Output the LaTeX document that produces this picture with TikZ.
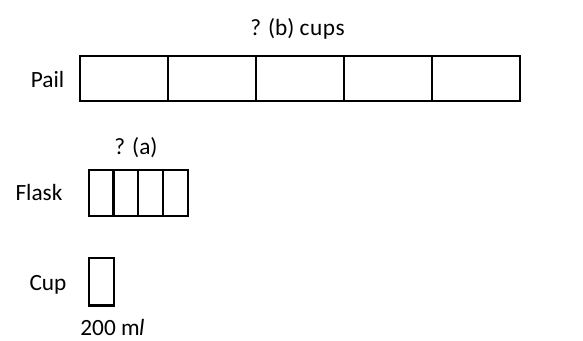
\documentclass[tikz,border=0pt]{standalone}
\usepackage{fontspec}
\setmainfont{Carlito}
\begin{document}
\begin{tikzpicture}[x=1pt,y=-1pt,
  lbl/.style={inner sep=0pt,anchor=base,font=\fontsize{23.3}{28}\selectfont},
  cell/.style={draw,line width=2.2pt,inner sep=0pt,anchor=north west}]
\useasboundingbox (0,0) rectangle (583,340);
% Pail
\foreach \i in {0,...,4} {
  \node[cell,minimum width=88pt,minimum height=45pt] (p\i) at ({78.5+88*\i},54.5) {};
}
% Flask
\foreach \i in {0,...,3} {
  \node[cell,minimum width=24.8pt,minimum height=46.5pt] (f\i) at ({87.5+24.8*\i},168.5) {};
}
% Cup
\node[cell,minimum width=25.2pt,minimum height=47.5pt] (c) at (87.5,256.8) {};
% labels
\node[lbl] (tb) at (297.5,35) {? (b) c\kern0.5pt u\kern0.5pt p\kern0.5pt s};
\node[lbl] (tp) at (47.5,87) {Pail};
\node[lbl] (ta) at (136,154) {? (a)};
\node[lbl] (tf) at (39,200) {Flask};
\node[lbl] (tc) at (48,290.5) {Cup};
\node[lbl] (tm) at (112.5,335.5) {200 m\kern-0.5pt{\itshape l}};
\end{tikzpicture}
\end{document}
